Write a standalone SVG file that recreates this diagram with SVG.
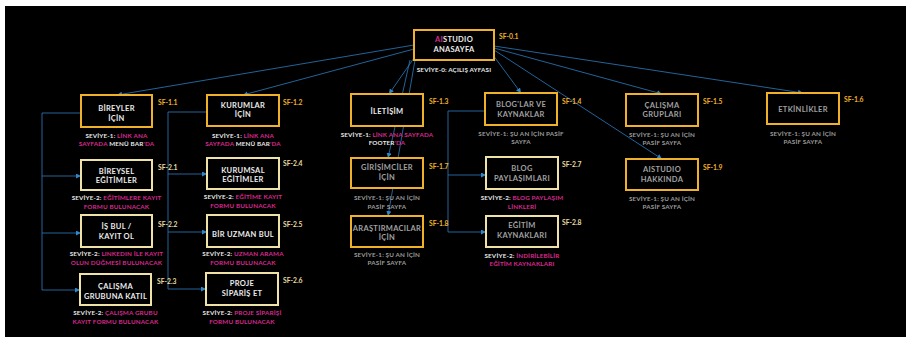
<svg xmlns="http://www.w3.org/2000/svg" width="910" height="340" viewBox="0 0 910 340">
<defs>
<marker id="ah" markerUnits="userSpaceOnUse" markerWidth="5" markerHeight="5" viewBox="0 0 10 10" refX="10" refY="5" orient="auto">
<path d="M0,0 L10,5 L0,10 z" fill="#2f86cc"/>
</marker>
<style>
.bg{fill:#000}
.b1{fill:#000;stroke:#f0b12a;stroke-width:2}
.b2{fill:#000;stroke:#efe2a6;stroke-width:2}
.t{font-family:Lato,"Noto Sans",sans-serif;font-weight:700;font-size:7.5px;fill:#ececec;text-anchor:middle;letter-spacing:0.3px}
.tg{fill:#a0a0a0}
.sf1{font-family:Lato,"Noto Sans",sans-serif;font-weight:700;font-size:6.8px;fill:#f0b12a}
.sf2{font-family:Lato,"Noto Sans",sans-serif;font-weight:700;font-size:6.8px;fill:#e9dca2}
.s{font-family:Lato,"Noto Sans",sans-serif;font-weight:700;font-size:6.3px;fill:#e6e6e6;text-anchor:middle;letter-spacing:0.15px}
.sg{fill:#9a9a9a}
.m{fill:#d8288f}
.c{fill:none;stroke:#2b7cc0;stroke-width:0.8}
</style>
</defs>
<rect x="0" y="0" width="910" height="340" fill="#fff"/>
<rect class="bg" x="5" y="6" width="901" height="331"/>

<g id="connectors">
<path class="c" marker-end="url(#ah)" d="M414,45 L117,95"/>
<path class="c" marker-end="url(#ah)" d="M414,49 L243,95"/>
<path class="c" marker-end="url(#ah)" d="M414,58 L389,94"/>
<path class="c" marker-end="url(#ah)" d="M410,60 L388,158"/>
<path class="c" marker-end="url(#ah)" d="M415,60 L388,216"/>
<path class="c" marker-end="url(#ah)" d="M493,55 L521,93"/>
<path class="c" marker-end="url(#ah)" d="M494,48 L662,94"/>
<path class="c" marker-end="url(#ah)" d="M494,50 L662,159"/>
<path class="c" marker-end="url(#ah)" d="M494,46 L803,93"/>
<path class="c" d="M81,113 H42 V290"/>
<path class="c" marker-end="url(#ah)" d="M42,176 H81"/>
<path class="c" marker-end="url(#ah)" d="M42,233 H81"/>
<path class="c" marker-end="url(#ah)" d="M42,290 H80"/>
<path class="c" d="M207,112 H168 V289"/>
<path class="c" marker-end="url(#ah)" d="M168,174 H207"/>
<path class="c" marker-end="url(#ah)" d="M168,232 H207"/>
<path class="c" marker-end="url(#ah)" d="M168,289 H206"/>
<path class="c" d="M485,111 H448 V232"/>
<path class="c" marker-end="url(#ah)" d="M448,175 H486"/>
<path class="c" marker-end="url(#ah)" d="M448,232 H486"/>
</g>

<g id="n-root">
<rect class="b1" x="414" y="30" width="80" height="30"/>
<text class="t" x="454" y="42"><tspan class="m">AI</tspan>STUDIO</text>
<text class="t" x="454" y="52">ANASAYFA</text>
<text class="sf1" x="499" y="39">SF-0.1</text>
<text class="s" x="454" y="72">SEVİYE-0: AÇILIŞ AYFASI</text>
</g>

<g id="n-bireyler">
<rect class="b1" x="81" y="95" width="71" height="32"/>
<text class="t" x="116.5" y="110.5">BİREYLER</text>
<text class="t" x="116.5" y="120.5">İÇİN</text>
<text class="sf1" x="158" y="105">SF-1.1</text>
<text class="s" x="116.5" y="138">SEVİYE-1: <tspan class="m">LİNK ANA</tspan></text>
<text class="s" x="116.5" y="146"><tspan class="m">SAYFADA</tspan> MENÜ BAR<tspan class="m">'DA</tspan></text>
</g>

<g id="n-kurumlar">
<rect class="b1" x="207" y="95" width="72" height="31"/>
<text class="t" x="243" y="107.5">KURUMLAR</text>
<text class="t" x="243" y="117">İÇİN</text>
<text class="sf1" x="283" y="105">SF-1.2</text>
<text class="s" x="243" y="138">SEVİYE-1: <tspan class="m">LİNK ANA</tspan></text>
<text class="s" x="243" y="146"><tspan class="m">SAYFADA</tspan> MENÜ BAR<tspan class="m">'DA</tspan></text>
</g>

<g id="n-bireysel">
<rect class="b2" x="81" y="160" width="71" height="30"/>
<text class="t" x="116.5" y="173.5">BİREYSEL</text>
<text class="t" x="116.5" y="182.5">EĞİTİMLER</text>
<text class="sf2" x="158" y="170">SF-2.1</text>
<text class="s" x="116.5" y="200">SEVİYE-2: <tspan class="m">EĞİTİMLERE KAYIT</tspan></text>
<text class="s" x="116.5" y="209"><tspan class="m">FORMU BULUNACAK</tspan></text>
</g>

<g id="n-isbul">
<rect class="b2" x="81" y="215" width="71" height="32"/>
<text class="t" x="116.5" y="228.5">İŞ BUL /</text>
<text class="t" x="116.5" y="239">KAYIT OL</text>
<text class="sf2" x="158" y="227">SF-2.2</text>
<text class="s" x="116.5" y="256">SEVİYE-2: <tspan class="m">LINKEDIN İLE KAYIT</tspan></text>
<text class="s" x="116.5" y="265"><tspan class="m">OLUN DÜĞMESİ BULUNACAK</tspan></text>
</g>

<g id="n-calismagrubu">
<rect class="b2" x="80" y="274" width="71" height="31"/>
<text class="t" x="115.5" y="289">ÇALIŞMA</text>
<text class="t" x="115.5" y="298.5">GRUBUNA KATIL</text>
<text class="sf2" x="157" y="284">SF-2.3</text>
<text class="s" x="115.5" y="315">SEVİYE-2: <tspan class="m">ÇALIŞMA GRUBU</tspan></text>
<text class="s" x="115.5" y="324"><tspan class="m">KAYIT FORMU BULUNACAK</tspan></text>
</g>

<g id="n-kurumsal">
<rect class="b2" x="207" y="158" width="72" height="31"/>
<text class="t" x="243" y="173">KURUMSAL</text>
<text class="t" x="243" y="182">EĞİTİMLER</text>
<text class="sf2" x="283" y="166">SF-2.4</text>
<text class="s" x="243" y="199">SEVİYE-2: <tspan class="m">EĞİTİME KAYIT</tspan></text>
<text class="s" x="243" y="208"><tspan class="m">FORMU BULUNACAK</tspan></text>
</g>

<g id="n-uzman">
<rect class="b2" x="207" y="215" width="72" height="32"/>
<text class="t" x="243" y="236.5">BİR UZMAN BUL</text>
<text class="sf2" x="283" y="227">SF-2.5</text>
<text class="s" x="243" y="256">SEVİYE-2: <tspan class="m">UZMAN ARAMA</tspan></text>
<text class="s" x="243" y="265"><tspan class="m">FORMU BULUNACAK</tspan></text>
</g>

<g id="n-proje">
<rect class="b2" x="206" y="273" width="72" height="32"/>
<text class="t" x="242" y="285.5">PROJE</text>
<text class="t" x="242" y="295.5">SİPARİŞ ET</text>
<text class="sf2" x="283" y="283">SF-2.6</text>
<text class="s" x="242" y="315">SEVİYE-2: <tspan class="m">PROJE SİPARİŞİ</tspan></text>
<text class="s" x="242" y="324"><tspan class="m">FORMU BULUNACAK</tspan></text>
</g>

<g id="n-iletisim">
<rect class="b1" x="351" y="94" width="72" height="32"/>
<text class="t" x="387" y="113.5">İLETİŞİM</text>
<text class="sf1" x="429" y="104">SF-1.3</text>
<text class="s" x="387" y="136.5">SEVİYE-1: <tspan class="m">LİNK ANA SAYFADA</tspan></text>
<text class="s" x="387" y="144.5">FOOTER<tspan class="m">'DA</tspan></text>
</g>

<g id="n-girisimciler">
<rect class="b1" x="351" y="158" width="72" height="30"/>
<text class="t tg" x="387" y="169.5">GİRİŞİMCİLER</text>
<text class="t tg" x="387" y="179.5">İÇİN</text>
<text class="sf1" x="429" y="169">SF-1.7</text>
<text class="s sg" x="387" y="200">SEVİYE-1: ŞU AN İÇİN</text>
<text class="s sg" x="387" y="208.5">PASİF SAYFA</text>
</g>

<g id="n-arastirmacilar">
<rect class="b1" x="351" y="216" width="72" height="31"/>
<text class="t tg" x="387" y="230.5">ARAŞTIRMACILAR</text>
<text class="t tg" x="387" y="239.5">İÇİN</text>
<text class="sf1" x="429" y="226">SF-1.8</text>
<text class="s sg" x="387" y="257">SEVİYE-1:  ŞU AN İÇİN</text>
<text class="s sg" x="387" y="265">PASİF SAYFA</text>
</g>

<g id="n-bloglar">
<rect class="b1" x="485" y="93" width="72" height="32"/>
<text class="t tg" x="521" y="106.5">BLOG'LAR VE</text>
<text class="t tg" x="521" y="116.5">KAYNAKLAR</text>
<text class="sf1" x="562" y="104">SF-1.4</text>
<text class="s sg" x="521" y="135.5">SEVİYE-1:  ŞU AN İÇİN PASİF</text>
<text class="s sg" x="521" y="144">SAYFA</text>
</g>

<g id="n-blogpay">
<rect class="b2" x="486" y="157" width="72" height="32"/>
<text class="t tg" x="522" y="170.5">BLOG</text>
<text class="t tg" x="522" y="180.5">PAYLAŞIMLARI</text>
<text class="sf2" x="562" y="167">SF-2.7</text>
<text class="s" x="522" y="200">SEVİYE-2: <tspan class="m">BLOG PAYLAŞIM</tspan></text>
<text class="s" x="522" y="208.5"><tspan class="m">LİNKLERİ</tspan></text>
</g>

<g id="n-egitimkay">
<rect class="b2" x="486" y="216" width="72" height="31"/>
<text class="t tg" x="522" y="227.5">EĞİTİM</text>
<text class="t tg" x="522" y="237.5">KAYNAKLARI</text>
<text class="sf2" x="562" y="225">SF-2.8</text>
<text class="s" x="522" y="258">SEVİYE-2: <tspan class="m">İNDİRİLEBİLİR</tspan></text>
<text class="s" x="522" y="266"><tspan class="m">EĞİTİM KAYNAKLARI</tspan></text>
</g>

<g id="n-calismagruplari">
<rect class="b1" x="626" y="94" width="72" height="32"/>
<text class="t tg" x="662" y="107.5">ÇALIŞMA</text>
<text class="t tg" x="662" y="116.5">GRUPLARI</text>
<text class="sf1" x="703" y="104">SF-1.5</text>
<text class="s sg" x="662" y="136.5">SEVİYE-1:  ŞU AN İÇİN</text>
<text class="s sg" x="662" y="144.5">PASİF SAYFA</text>
</g>

<g id="n-hakkinda">
<rect class="b1" x="626" y="159" width="72" height="31"/>
<text class="t tg" x="662" y="171.5">AISTUDIO</text>
<text class="t tg" x="662" y="181.5">HAKKINDA</text>
<text class="sf1" x="703" y="169.5">SF-1.9</text>
<text class="s sg" x="662" y="200.5">SEVİYE-1:  ŞU AN İÇİN</text>
<text class="s sg" x="662" y="209">PASİF SAYFA</text>
</g>

<g id="n-etkinlikler">
<rect class="b1" x="767" y="93" width="72" height="31"/>
<text class="t tg" x="803" y="111.5">ETKİNLİKLER</text>
<text class="sf1" x="844" y="101.5">SF-1.6</text>
<text class="s sg" x="803" y="135.5">SEVİYE-1:  ŞU AN İÇİN</text>
<text class="s sg" x="803" y="144">PASİF SAYFA</text>
</g>
</svg>
